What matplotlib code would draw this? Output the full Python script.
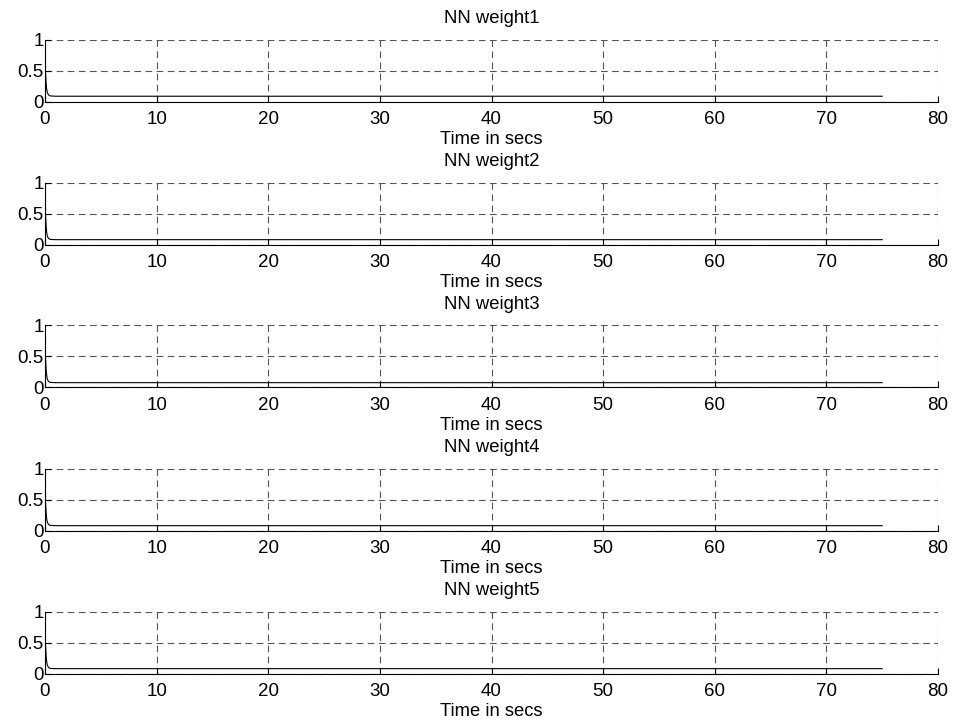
import matplotlib
matplotlib.use("Agg")
import matplotlib.pyplot as plt

plt.rcParams['font.family'] = ['Liberation Sans', 'DejaVu Sans']

# Weight trajectories of the neural network (time in seconds, weight value)
time_pts = [0.0, 0.05, 0.1, 0.15, 0.2, 0.3, 0.4, 0.5, 0.7, 1.0, 75.0]
weight1 = [0.65, 0.45, 0.30, 0.20, 0.15, 0.11, 0.095, 0.09, 0.087, 0.085, 0.085]
weight2 = [0.69, 0.47, 0.31, 0.20, 0.14, 0.10, 0.088, 0.082, 0.080, 0.078, 0.078]
weight3 = [0.67, 0.46, 0.30, 0.20, 0.14, 0.10, 0.088, 0.082, 0.080, 0.078, 0.078]
weight4 = [0.64, 0.44, 0.29, 0.19, 0.14, 0.10, 0.088, 0.082, 0.080, 0.078, 0.078]
weight5 = [0.65, 0.45, 0.29, 0.19, 0.14, 0.10, 0.088, 0.082, 0.080, 0.078, 0.078]
weights = [weight1, weight2, weight3, weight4, weight5]
titles = ["NN weight1", "NN weight2", "NN weight3", "NN weight4", "NN weight5"]
xticks = [0, 10, 20, 30, 40, 50, 60, 70, 80]
yticks = [0, 0.5, 1]
ytick_labels = ["0", "0.5", "1"]

W, H = 956, 725
fig = plt.figure(figsize=(W / 100, H / 100), dpi=100)

left_px, right_px = 45, 938
first_top, spacing = 39.5, 143.0
height_px = 62.0

for k in range(5):
    top = first_top + k * spacing
    ax = fig.add_axes([left_px / W, 1 - (top + height_px) / H,
                       (right_px - left_px) / W, height_px / H])
    ax.plot(time_pts, weights[k], color='black', linewidth=0.8)
    ax.set_xlim(0, 80)
    ax.set_ylim(0, 1)
    ax.set_xticks(xticks)
    ax.set_yticks(yticks)
    ax.set_yticklabels(ytick_labels)
    ax.grid(True, color='#555555', linestyle=(0, (6, 4)), linewidth=0.8)
    for side in ('top', 'right'):
        ax.spines[side].set_visible(False)
    for side in ('left', 'bottom'):
        ax.spines[side].set_linewidth(0.8)
    ax.tick_params(direction='in', length=4, width=0.8, labelsize=13.5)
    ax.tick_params(axis='x', pad=6.7)
    ax.tick_params(axis='y', pad=1)
    ax.set_title(titles[k], fontsize=13.3, pad=11.7)
    ax.set_xlabel("Time in secs", fontsize=13.2, labelpad=2.5)
    ax.set_facecolor('white')

fig.savefig("out.png", dpi=100, facecolor='white')
